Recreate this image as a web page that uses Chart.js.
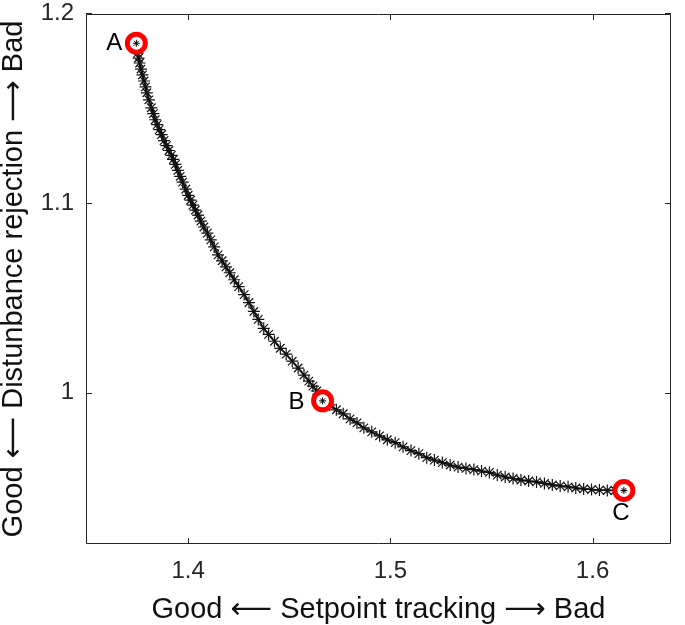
<!DOCTYPE html>
<html lang="en">
<head>
    <meta charset="UTF-8">
    <title>Pareto front</title>
    <script src="https://cdn.jsdelivr.net/npm/chart.js"></script>
    <style>
        body { margin: 0; background: #fff; }
        #wrap { width: 685px; height: 625px; position: relative; }
    </style>
</head>
<body>
    <div id="wrap"><canvas id="pareto"></canvas></div>
    <script>
        // points on the front: setpoint tracking cost vs disturbance rejection cost
        const trackCost = [
            1.3744, 1.3747, 1.3750, 1.3755, 1.3760, 1.3767, 1.3774, 1.3782, 1.3789, 1.3796,
            1.3806, 1.3818, 1.3828, 1.3837, 1.3847, 1.3857, 1.3869, 1.3881, 1.3893, 1.3905,
            1.3917, 1.3927, 1.3937, 1.3949, 1.3961, 1.3973, 1.3988, 1.4000, 1.4012, 1.4024,
            1.4036, 1.4049, 1.4063, 1.4078, 1.4095, 1.4112, 1.4129, 1.4148, 1.4168, 1.4187,
            1.4206, 1.4228, 1.4250, 1.4277, 1.4301, 1.4325, 1.4347, 1.4374, 1.4398, 1.4427,
            1.4456, 1.4485, 1.4515, 1.4544, 1.4573, 1.4597, 1.4617, 1.4636, 1.4650,
            1.4665, 1.4699, 1.4733, 1.4767, 1.4801, 1.4835, 1.4869, 1.4908, 1.4947, 1.4985,
            1.5024, 1.5063, 1.5102, 1.5141, 1.5180, 1.5218, 1.5257, 1.5296, 1.5335, 1.5374,
            1.5413, 1.5451, 1.5490, 1.5529, 1.5568, 1.5607, 1.5646, 1.5684, 1.5723, 1.5762,
            1.5801, 1.5840, 1.5879, 1.5917, 1.5956, 1.5995, 1.6034, 1.6073, 1.6112, 1.6155
        ];
        const distCost = [
            1.1841, 1.1815, 1.1789, 1.1763, 1.1737, 1.1705, 1.1674, 1.1642, 1.1611, 1.1580,
            1.1543, 1.1501, 1.1470, 1.1438, 1.1412, 1.1386, 1.1360, 1.1328, 1.1302, 1.1276,
            1.1250, 1.1229, 1.1203, 1.1171, 1.1140, 1.1109, 1.1072, 1.1040, 1.1014, 1.0988,
            1.0962, 1.0936, 1.0904, 1.0873, 1.0841, 1.0805, 1.0768, 1.0726, 1.0695, 1.0663,
            1.0632, 1.0595, 1.0559, 1.0517, 1.0475, 1.0428, 1.0386, 1.0339, 1.0307, 1.0271,
            1.0234, 1.0203, 1.0166, 1.0130, 1.0093, 1.0061, 1.0035, 1.0009, 0.9983,
            0.9957, 0.9936, 0.9910, 0.9889, 0.9862, 0.9841, 0.9815, 0.9794, 0.9773, 0.9752,
            0.9737, 0.9715, 0.9695, 0.9679, 0.9658, 0.9645, 0.9632, 0.9619, 0.9608, 0.9601,
            0.9595, 0.9587, 0.9580, 0.9566, 0.9556, 0.9548, 0.9540, 0.9535, 0.9530, 0.9522,
            0.9514, 0.9509, 0.9504, 0.9498, 0.9493, 0.9490, 0.9487, 0.9485, 0.9485, 0.9485
        ];

        // highlighted designs
        const markLabels = ['A', 'B', 'C'];
        const markX = [1.3744, 1.4665, 1.6155];
        const markY = [1.1841, 0.9957, 0.9485];

        const xTicks = [1.4, 1.5, 1.6];
        const xTickLabels = ['1.4', '1.5', '1.6'];
        const yTicks = [1.0, 1.1, 1.2];
        const yTickLabels = ['1', '1.1', '1.2'];

        const FONT = "'Liberation Sans', Arial, Helvetica, 'DejaVu Sans', sans-serif";
        const AXIS_COLOR = '#262626';

        function toPoints(xs, ys)
        {
            return xs.map((x, i) => ({ x: x, y: ys[i] }));
        }

        // matlab style box with inward ticks + the A/B/C labels
        const boxPlugin =
        {
            id: 'box',
            afterDatasetsDraw(chart)
            {
                const ctx = chart.ctx;
                const a = chart.chartArea;
                const sx = chart.scales.x;
                const sy = chart.scales.y;
                const tl = 6;
                ctx.save();
                ctx.strokeStyle = AXIS_COLOR;
                ctx.lineWidth = 1;
                ctx.beginPath();
                ctx.rect(a.left + 0.5, a.top + 0.5, a.right - a.left - 1, a.bottom - a.top - 1);
                xTicks.forEach(v =>
                {
                    const px = Math.round(sx.getPixelForValue(v)) + 0.5;
                    ctx.moveTo(px, a.bottom);
                    ctx.lineTo(px, a.bottom - tl);
                    ctx.moveTo(px, a.top);
                    ctx.lineTo(px, a.top + tl);
                });
                yTicks.forEach(v =>
                {
                    const py = Math.round(sy.getPixelForValue(v)) + 0.5;
                    ctx.moveTo(a.left, py);
                    ctx.lineTo(a.left + tl, py);
                    ctx.moveTo(a.right, py);
                    ctx.lineTo(a.right - tl, py);
                });
                ctx.stroke();

                const offsets = [[-22, 0], [-26, 2], [-3, 23]];
                ctx.fillStyle = '#000';
                ctx.font = '24px ' + FONT;
                ctx.textAlign = 'center';
                ctx.textBaseline = 'middle';
                markLabels.forEach((t, i) =>
                {
                    const px = sx.getPixelForValue(markX[i]) + offsets[i][0];
                    const py = sy.getPixelForValue(markY[i]) + offsets[i][1];
                    ctx.fillText(t, px, py);
                });
                ctx.restore();
            }
        };

        new Chart(document.getElementById('pareto'),
        {
            type: 'scatter',
            data:
            {
                datasets:
                [
                    {
                        data: toPoints(markX, markY),
                        pointStyle: 'star',
                        pointRadius: 3.5,
                        borderColor: '#000',
                        borderWidth: 1,
                        order: 0
                    },
                    {
                        data: toPoints(markX, markY),
                        pointStyle: 'circle',
                        pointRadius: 9,
                        borderColor: '#ff0000',
                        backgroundColor: '#ffffff',
                        borderWidth: 5,
                        order: 1
                    },
                    {
                        data: toPoints(trackCost, distCost),
                        showLine: true,
                        borderColor: '#000',
                        borderWidth: 1.5,
                        pointStyle: 'star',
                        pointRadius: 6,
                        pointBorderColor: '#111',
                        pointBorderWidth: 1.2,
                        order: 2
                    }
                ]
            },
            options:
            {
                responsive: true,
                maintainAspectRatio: false,
                animation: false,
                events: [],
                layout: { padding: { top: 11, right: 3, left: 0, bottom: 0 } },
                plugins:
                {
                    legend: { display: false },
                    tooltip: { enabled: false }
                },
                scales:
                {
                    x:
                    {
                        type: 'linear',
                        min: 1.3495,
                        max: 1.6388,
                        grid: { display: false, drawTicks: false },
                        border: { display: false },
                        afterBuildTicks: s => { s.ticks = xTicks.map(v => ({ value: v })); },
                        afterFit: s => { s.height = 81; s.paddingLeft = 0; s.paddingRight = 0; },
                        ticks:
                        {
                            padding: 13,
                            color: AXIS_COLOR,
                            font: { family: FONT, size: 24 },
                            callback: (v, i) => xTickLabels[i]
                        },
                        title:
                        {
                            display: true,
                            text: 'Good ⟵ Setpoint tracking ⟶ Bad',
                            color: '#111',
                            font: { family: FONT, size: 29, lineHeight: 1 },
                            padding: { top: 0, bottom: 1 }
                        }
                    },
                    y:
                    {
                        type: 'linear',
                        min: 0.9203,
                        max: 1.1995,
                        grid: { display: false, drawTicks: false },
                        border: { display: false },
                        afterBuildTicks: s => { s.ticks = yTicks.map(v => ({ value: v })); },
                        afterFit: s => { s.width = 86; s.paddingTop = 0; s.paddingBottom = 0; },
                        ticks:
                        {
                            padding: 12,
                            color: AXIS_COLOR,
                            font: { family: FONT, size: 24 },
                            callback: (v, i) => yTickLabels[i]
                        },
                        title:
                        {
                            display: true,
                            text: 'Good ⟵ Distunbance rejection ⟶ Bad',
                            color: '#111',
                            font: { family: FONT, size: 29, lineHeight: 1 },
                            padding: { top: -1, bottom: 0 }
                        }
                    }
                }
            },
            plugins: [boxPlugin]
        });
    </script>
</body>
</html>
